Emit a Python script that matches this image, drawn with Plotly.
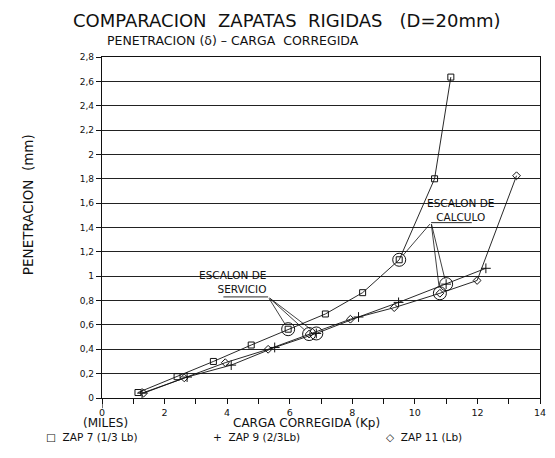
import plotly.graph_objects as go

# Load (thousands of Kp) vs penetration (mm) for each footing
zap7_x = [1.15, 2.40, 3.56, 4.77, 5.95, 7.14, 8.33, 9.50, 10.63, 11.15]
zap7_y = [0.045, 0.175, 0.30, 0.435, 0.565, 0.69, 0.865, 1.135, 1.80, 2.635]
zap9_x = [1.28, 2.72, 4.13, 5.52, 6.85, 8.20, 9.48, 11.00, 12.27]
zap9_y = [0.04, 0.172, 0.27, 0.415, 0.53, 0.665, 0.785, 0.935, 1.065]
zap11_x = [1.33, 2.63, 3.94, 5.31, 6.62, 7.94, 9.34, 10.80, 11.99, 13.25]
zap11_y = [0.04, 0.165, 0.29, 0.40, 0.525, 0.647, 0.742, 0.86, 0.965, 1.825]

# Index of the service step and the design step in each series
service_idx = {"zap7": 4, "zap9": 4, "zap11": 4}
design_idx = {"zap7": 7, "zap9": 7, "zap11": 7}

x_tick_vals = [0, 2, 4, 6, 8, 10, 12, 14]
x_tick_labels = ["0", "2", "4", "6", "8", "10", "12", "14"]
y_tick_vals = [0, 0.2, 0.4, 0.6, 0.8, 1.0, 1.2, 1.4, 1.6, 1.8, 2.0, 2.2, 2.4, 2.6, 2.8]
y_tick_labels = ["0", "0,2", "0,4", "0,6", "0,8", "1", "1,2", "1,4", "1,6", "1,8",
                 "2", "2,2", "2,4", "2,6", "2,8"]

series = {
    "zap7": (zap7_x, zap7_y, "square-open", 6, "ZAP 7 (1/3 Lb)"),
    "zap9": (zap9_x, zap9_y, "cross-thin-open", 7, "ZAP 9 (2/3Lb)"),
    "zap11": (zap11_x, zap11_y, "diamond-open", 6, "ZAP 11 (Lb)"),
}

FONT = "DejaVu Sans"
INK = "#111111"

W, H = 555, 458
L, R, T, B = 101.7, 9.3, 57.3, 60
pw, ph = W - L - R, H - T - B

fig = go.Figure()

for key, (xs, ys, sym, size, name) in series.items():
    fig.add_trace(go.Scatter(
        x=xs, y=ys, mode="lines+markers", name=name,
        line=dict(color=INK, width=0.9),
        marker=dict(symbol=sym, size=size, color=INK, line=dict(color=INK, width=1)),
        showlegend=False,
    ))

# Circles that flag the service and design steps
ring_x, ring_y = [], []
for key, (xs, ys, *_rest) in series.items():
    for idx in (service_idx[key], design_idx[key]):
        ring_x.append(xs[idx])
        ring_y.append(ys[idx])
fig.add_trace(go.Scatter(
    x=ring_x, y=ring_y, mode="markers", showlegend=False,
    marker=dict(symbol="circle-open", size=13, color=INK, line=dict(color=INK, width=1)),
))

annotations = []
shapes = []

# Callout labels with leader lines
service_origin = (5.31, 0.83)
design_origin = (10.52, 1.44)

for key, (xs, ys, *_rest) in series.items():
    for idx_map, origin in ((service_idx, service_origin), (design_idx, design_origin)):
        i = idx_map[key]
        annotations.append(dict(
            x=xs[i], y=ys[i], ax=origin[0], ay=origin[1],
            xref="x", yref="y", axref="x", ayref="y", text="",
            showarrow=True, arrowhead=0, arrowwidth=0.8, arrowcolor=INK, standoff=6,
        ))

label_font = dict(family=FONT, size=10.5, color=INK)
S = "\u00a0"
annotations += [
    dict(x=5.31, y=0.95, xref="x", yref="y", text=f"ESCALON{S}DE<br>SERVICIO",
         showarrow=False, font=label_font, align="right", xanchor="right",
         yanchor="middle"),
    dict(x=11.45, y=1.545, xref="x", yref="y", text=f"ESCALON{S}DE<br>CALCULO",
         showarrow=False, font=label_font, align="center", xanchor="center",
         yanchor="middle"),
]
shapes += [
    dict(type="line", xref="x", yref="y", x0=3.88, x1=service_origin[0],
         y0=service_origin[1], y1=service_origin[1], line=dict(color=INK, width=0.9)),
    dict(type="line", xref="x", yref="y", x0=design_origin[0], x1=11.82,
         y0=design_origin[1], y1=design_origin[1], line=dict(color=INK, width=0.9)),
    # y axis continues a little below the origin
    dict(type="line", xref="x", yref="paper", x0=0, x1=0, y0=-0.03, y1=0,
         line=dict(color=INK, width=1.2)),
]


def page_text(px, py, text, size, xanchor="center", **kw):
    """Text placed by page pixel position, converted to paper coordinates."""
    return dict(x=(px - L) / pw, y=(H - B - py) / ph, xref="paper", yref="paper",
                text=text, showarrow=False, xanchor=xanchor, yanchor="middle",
                font=dict(family=FONT, size=size, color=INK), **kw)


annotations += [
    page_text(289, 21, f"COMPARACION{S}{S}ZAPATAS{S}{S}RIGIDAS{S}{S}{S}(D=20mm)", 18),
    page_text(235, 41, f"PENETRACION{S}(δ){S}–{S}CARGA{S}{S}CORREGIDA", 12.5),
    page_text(105, 423, "(MILES)", 12),
    page_text(309, 423, f"CARGA{S}CORREGIDA{S}(Kp)", 12),
    page_text(43, 437, f"\u25a1{S}{S}ZAP{S}7{S}(1/3{S}Lb)", 10.5, xanchor="left"),
    page_text(212, 437, f"+{S}{S}ZAP{S}9{S}(2/3Lb)", 10.5, xanchor="left"),
    page_text(388, 437, f"\u25c7{S}{S}ZAP{S}11{S}(Lb)", 10.5, xanchor="left"),
    page_text(27, 205, f"PENETRACION{S}{S}(mm)", 13.5, textangle=-90),
]

fig.update_layout(
    width=W, height=H,
    margin=dict(l=L, r=R, t=T, b=B, pad=0),
    plot_bgcolor="white", paper_bgcolor="white",
    font=dict(family=FONT, color=INK),
    separators=",.",
    xaxis=dict(
        range=[0, 14], tickvals=x_tick_vals, ticktext=x_tick_labels,
        showgrid=False, zeroline=False, showline=True, linecolor=INK, linewidth=1.2,
        mirror=True, ticks="outside", ticklen=5, tickcolor=INK, tickwidth=1,
        minor=dict(dtick=1, ticks="outside", ticklen=5, tickcolor=INK, tickwidth=1),
        tickfont=dict(family=FONT, size=9.5, color=INK),
    ),
    yaxis=dict(
        range=[0, 2.8], tickvals=y_tick_vals, ticktext=y_tick_labels,
        showgrid=True, gridcolor="#222222", gridwidth=1,
        zeroline=False, showline=True, linecolor=INK, linewidth=1.2, mirror=True,
        ticks="outside", ticklen=5, tickcolor=INK, tickwidth=1,
        tickfont=dict(family=FONT, size=9, color=INK),
    ),
    annotations=annotations,
    shapes=shapes,
)

fig.write_html("out.html")
